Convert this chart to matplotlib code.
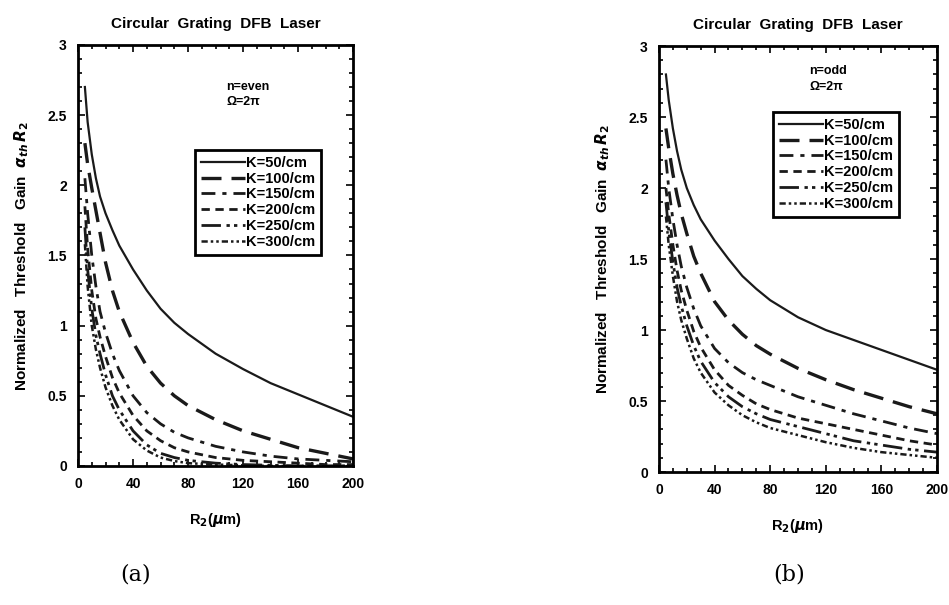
import matplotlib.pyplot as plt
from matplotlib.ticker import MultipleLocator

plt.rcParams['font.family'] = ['Liberation Sans', 'DejaVu Sans']
plt.rcParams['font.weight'] = 'bold'
plt.rcParams['mathtext.fontset'] = 'dejavusans'

# radius R2 in um
r2 = [5, 7, 10, 13, 16, 20, 25, 30, 40, 50, 60, 70, 80, 100, 120, 140, 160, 180, 200]

kappa_labels = ['K=50/cm', 'K=100/cm', 'K=150/cm', 'K=200/cm', 'K=250/cm', 'K=300/cm']

# normalized threshold gain, n = even
gain_even = [
    [2.70, 2.45, 2.22, 2.05, 1.92, 1.80, 1.68, 1.57, 1.40, 1.25, 1.12, 1.02, 0.94, 0.80, 0.69, 0.59, 0.51, 0.43, 0.35],
    [2.30, 2.15, 1.98, 1.82, 1.66, 1.45, 1.25, 1.10, 0.88, 0.71, 0.59, 0.50, 0.43, 0.33, 0.25, 0.19, 0.13, 0.09, 0.05],
    [2.05, 1.80, 1.50, 1.28, 1.10, 0.95, 0.80, 0.68, 0.50, 0.38, 0.30, 0.24, 0.20, 0.14, 0.10, 0.07, 0.05, 0.04, 0.03],
    [1.85, 1.55, 1.25, 1.05, 0.92, 0.78, 0.63, 0.52, 0.36, 0.25, 0.18, 0.13, 0.10, 0.06, 0.04, 0.03, 0.02, 0.01, 0.01],
    [1.70, 1.40, 1.12, 0.93, 0.80, 0.65, 0.50, 0.40, 0.25, 0.15, 0.09, 0.06, 0.04, 0.02, 0.01, 0.005, 0.0, 0.0, 0.0],
    [1.58, 1.28, 1.00, 0.83, 0.70, 0.56, 0.43, 0.33, 0.19, 0.11, 0.06, 0.035, 0.02, 0.01, 0.005, 0.0, 0.0, 0.0, 0.0],
]

# normalized threshold gain, n = odd
gain_odd = [
    [2.80, 2.62, 2.42, 2.26, 2.13, 2.00, 1.88, 1.78, 1.63, 1.50, 1.38, 1.29, 1.21, 1.09, 1.00, 0.93, 0.86, 0.79, 0.72],
    [2.42, 2.28, 2.10, 1.95, 1.82, 1.68, 1.52, 1.40, 1.20, 1.07, 0.97, 0.89, 0.83, 0.73, 0.65, 0.58, 0.52, 0.46, 0.41],
    [2.20, 2.00, 1.78, 1.60, 1.45, 1.30, 1.15, 1.03, 0.87, 0.77, 0.70, 0.65, 0.61, 0.53, 0.47, 0.41, 0.36, 0.31, 0.27],
    [2.00, 1.82, 1.60, 1.42, 1.28, 1.14, 0.99, 0.88, 0.72, 0.61, 0.54, 0.48, 0.44, 0.38, 0.34, 0.30, 0.26, 0.22, 0.19],
    [1.90, 1.70, 1.48, 1.30, 1.17, 1.03, 0.89, 0.78, 0.63, 0.53, 0.46, 0.41, 0.37, 0.32, 0.27, 0.22, 0.19, 0.16, 0.14],
    [1.80, 1.60, 1.38, 1.20, 1.07, 0.94, 0.80, 0.70, 0.56, 0.47, 0.40, 0.35, 0.31, 0.26, 0.21, 0.17, 0.14, 0.12, 0.10],
]

styles = [
    dict(linestyle='-', linewidth=1.6),
    dict(linestyle=(0, (6, 3)), linewidth=2.4),
    dict(linestyle=(0, (5, 2.5, 1.5, 2.5)), linewidth=2.0),
    dict(linestyle=(0, (3, 2)), linewidth=2.0),
    dict(linestyle=(0, (7, 2, 1.2, 1.5, 1.2, 2)), linewidth=2.0),
    dict(linestyle=(0, (2.5, 1.2, 1, 1.2, 1, 1.2)), linewidth=1.8),
]

fig = plt.figure(figsize=(9.49, 6.05), dpi=100)
ax_a = fig.add_axes([0.0822, 0.2298, 0.290, 0.696])
ax_b = fig.add_axes([0.6944, 0.2198, 0.293, 0.704])


def draw_panel(ax, gains, mode_text, text_xy, legend_anchor):
    for vals, lab, st in zip(gains, kappa_labels, styles):
        ax.plot(r2, vals, color='#1a1a1a', label=lab, **st)
    ax.set_xlim(0, 200)
    ax.set_ylim(0, 3)
    ax.xaxis.set_major_locator(MultipleLocator(40))
    ax.xaxis.set_minor_locator(MultipleLocator(10))
    ax.yaxis.set_minor_locator(MultipleLocator(0.1))
    ax.set_yticks([0, 0.5, 1, 1.5, 2, 2.5, 3])
    ax.set_yticklabels(['0', '0.5', '1', '1.5', '2', '2.5', '3'])
    ax.tick_params(which='both', direction='in', top=True, right=True,
                   labelsize=10, width=1.2, pad=8)
    ax.tick_params(which='major', length=5)
    ax.tick_params(which='minor', length=3)
    for s in ax.spines.values():
        s.set_linewidth(2.0)
    ax.set_title('Circular  Grating  DFB  Laser', fontsize=11, fontweight='bold', pad=12)
    ax.set_xlabel(r'R$_\mathbf{2}$($\mu$m)', fontsize=10.5, fontweight='bold', labelpad=14)
    ax.set_ylabel(r'Normalized   Threshold   Gain  $\alpha_{th}\,R_2$', fontsize=11,
                  fontweight='bold', labelpad=12)
    ax.text(text_xy[0], text_xy[1], mode_text, transform=ax.transAxes, fontsize=9,
            fontweight='bold', va='top', ha='left', linespacing=1.4)
    leg = ax.legend(loc='upper left', bbox_to_anchor=legend_anchor, fontsize=10.5,
                    handlelength=3.0, handletextpad=0.1, labelspacing=0.12,
                    borderpad=0.4, borderaxespad=0, fancybox=False, framealpha=1)
    leg.get_frame().set_edgecolor('black')
    leg.get_frame().set_linewidth(2.0)


draw_panel(ax_a, gain_even, 'n=even\n\u03a9=2\u03c0', (0.54, 0.915), (0.425, 0.75))
draw_panel(ax_b, gain_odd, 'n=odd\n\u03a9=2\u03c0', (0.54, 0.955), (0.41, 0.845))

# panel tags
for x, tag in [(0.1433, '(a)'), (0.8314, '(b)')]:
    fig.text(x, 0.05, tag, ha='center', va='center', fontsize=16,
             fontweight='normal', family='DejaVu Serif')

fig.savefig('out.png', dpi=100)
